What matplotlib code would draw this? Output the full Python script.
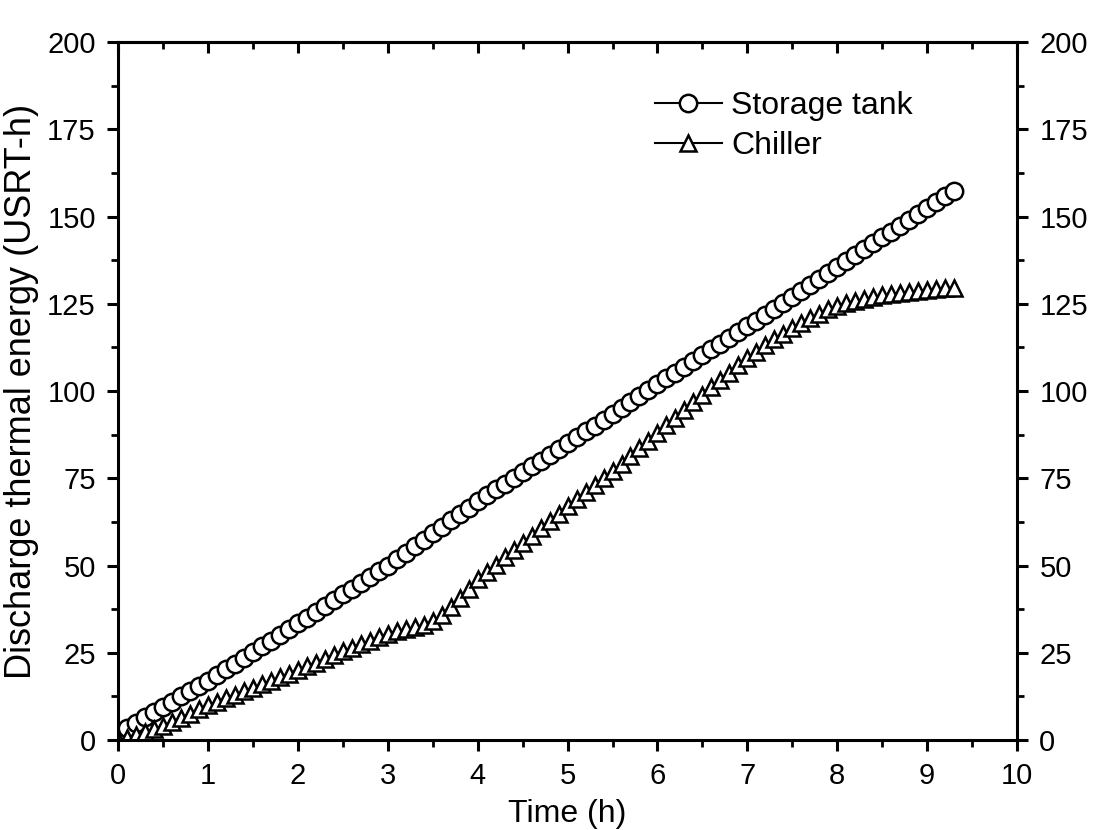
import numpy as np
import matplotlib
matplotlib.use("Agg")
import matplotlib.pyplot as plt
from matplotlib.ticker import MultipleLocator

plt.rcParams['font.family'] = ['Liberation Sans', 'DejaVu Sans']

# Time axis (h), one reading every 0.1 h
time_h = np.round(np.arange(0, 94) * 0.1, 1)

storage_tank = [
    2.0, 3.5, 5.0, 6.5, 8.0, 9.5, 11.0, 12.5, 14.0, 15.5,
    17.0, 18.6, 20.3, 21.9, 23.6, 25.2, 26.9, 28.5, 30.2, 31.8,
    33.5, 35.1, 36.8, 38.4, 40.1, 41.7, 43.4, 45.0, 46.7, 48.3,
    50.0, 51.8, 53.7, 55.5, 57.4, 59.2, 61.1, 63.0, 64.8, 66.6,
    68.5, 70.1, 71.8, 73.4, 75.1, 76.7, 78.4, 80.0, 81.7, 83.3,
    85.0, 86.7, 88.4, 90.1, 91.8, 93.5, 95.2, 96.9, 98.6, 100.3,
    102.0, 103.6, 105.3, 106.9, 108.6, 110.2, 111.9, 113.5, 115.2, 116.8,
    118.5, 120.2, 121.9, 123.6, 125.3, 127.0, 128.7, 130.4, 132.1, 133.8,
    135.5, 137.2, 138.9, 140.6, 142.3, 144.0, 145.7, 147.4, 149.1, 150.8,
    152.5, 154.2, 155.9, 157.4,
]

chiller = [
    0.0, 0.6, 1.4, 2.2, 3.1, 4.0, 5.2, 6.4, 7.6, 8.8,
    10.0, 11.0, 12.0, 13.0, 14.0, 15.0, 16.0, 17.0, 18.0, 19.0,
    20.0, 21.1, 22.2, 23.3, 24.4, 25.5, 26.5, 27.5, 28.5, 29.5,
    30.5, 31.1, 31.7, 32.3, 33.0, 34.2, 35.8, 38.2, 40.6, 43.2,
    46.0, 48.1, 50.2, 52.3, 54.4, 56.5, 58.6, 60.7, 62.8, 64.9,
    67.0, 69.0, 71.0, 73.0, 75.0, 77.0, 79.2, 81.4, 83.6, 85.8,
    88.0, 90.2, 92.4, 94.6, 96.8, 99.0, 101.1, 103.2, 105.3, 107.4,
    109.5, 111.3, 113.1, 114.8, 116.4, 118.0, 119.5, 120.9, 122.2, 123.4,
    124.5, 125.2, 125.8, 126.4, 127.0, 127.5, 127.8, 128.1, 128.4, 128.7,
    129.0, 129.2, 129.4, 129.5,
]

x_ticks = list(range(0, 11))
y_ticks = [0, 25, 50, 75, 100, 125, 150, 175, 200]

FS = 21

fig = plt.figure(figsize=(10.96, 8.30), dpi=100)
ax = fig.add_axes([0.1077, 0.1084, 0.8203, 0.841])

ax.plot(time_h, storage_tank, color='black', lw=1.5, marker='o', ms=12.5,
        mfc='white', mec='black', mew=1.8, label='Storage tank')
ax.plot(time_h, chiller, color='black', lw=1.5, marker='^', ms=11,
        mfc='white', mec='black', mew=1.8, label='Chiller')

ax.set_xlim(0, 10)
ax.set_ylim(0, 200)
ax.set_xticks(x_ticks)
ax.set_yticks(y_ticks)
ax.xaxis.set_minor_locator(MultipleLocator(0.5))
ax.yaxis.set_minor_locator(MultipleLocator(12.5))

for s in ax.spines.values():
    s.set_linewidth(2.2)

ax.tick_params(axis='both', which='major', direction='out', length=8, width=2.2,
               labelsize=FS, pad=8)
ax.tick_params(axis='both', which='minor', direction='out', length=5, width=2.0)
ax.tick_params(axis='y', which='both', right=True, labelright=True)
ax.tick_params(axis='x', which='both', top=False)

secx = ax.secondary_xaxis('top')
secx.set_xticks(x_ticks)
secx.xaxis.set_minor_locator(MultipleLocator(0.5))
secx.tick_params(which='major', direction='in', length=8, width=2.2, labeltop=False)
secx.tick_params(which='minor', direction='in', length=5, width=2.0)
secx.spines['top'].set_linewidth(2.2)

ax.set_xlabel('Time (h)', fontsize=23, labelpad=6)
ax.set_ylabel('Discharge thermal energy (USRT-h)', fontsize=26, labelpad=6)

leg = ax.legend(loc='upper left', bbox_to_anchor=(0.597, 0.93), frameon=False,
                fontsize=23, handlelength=2.1, handletextpad=0.3,
                labelspacing=0.32, borderpad=0, borderaxespad=0)

fig.savefig('out.png', dpi=100)
